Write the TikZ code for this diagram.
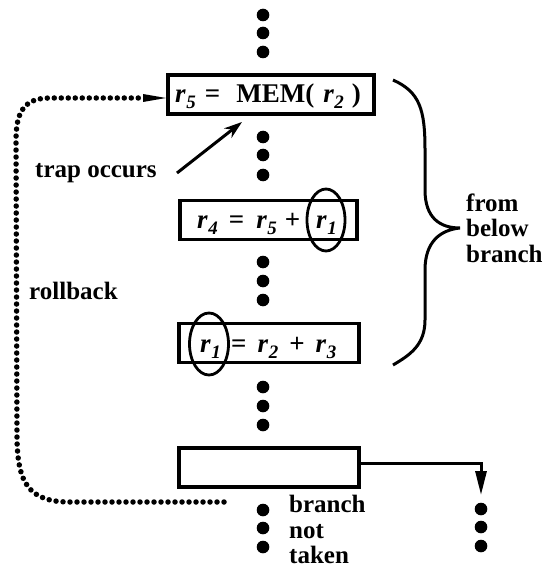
\documentclass[tikz,border=0pt]{standalone}
\usepackage{fontspec}
\setmainfont{Liberation Serif}
\usetikzlibrary{arrows.meta}
\newcommand\rg[1]{\textit{r}\kern0.5pt\raisebox{-6pt}{\fontsize{19}{19}\selectfont\textit{#1}}}
\tikzset{
  instr/.style={draw, line width=3.2pt, inner sep=0pt, minimum height=39pt},
  etxt/.style={inner sep=0pt, anchor=base west, font=\bfseries\fontsize{27}{28}\selectfont},
  lbl/.style={inner sep=0pt, font=\bfseries\fontsize{25}{25.5}\selectfont, align=left},
  dotc/.style={fill=black},
  conn/.style={line width=3pt},
  rollb/.style={line width=5.5pt, line cap=round, dash pattern=on 0pt off 7pt},
  circ/.style={line width=2.8pt},
}
\begin{document}
\begin{tikzpicture}[x=1pt,y=-1pt]
\useasboundingbox (0,0) rectangle (547,572);
% dots
\foreach \y in {15,33,52, 137,155,175, 262,281,300, 387,406,425, 510,528,547}
  \fill[dotc] (263,\y) circle (6.3pt);
\foreach \y in {509,527,546}
  \fill[dotc] (481,\y) circle (6.3pt);
% boxes
\node[instr, minimum width=206pt] (m1) at (271,94.5) {};
\node[instr, minimum width=177pt] (m2) at (268.5,220) {};
\node[instr, minimum width=180pt] (m3) at (269,343) {};
\node[instr, minimum width=180pt] (m4) at (269,467.5) {};
% box texts
\node[etxt] (t1) at (175,103) {\rg{5}\hspace{9pt}=\hspace{16pt}MEM(\hspace{9pt}\rg{2}\hspace{8pt})};
\node[etxt] (t2) at (197,228.5) {\rg{4}\hspace{11pt}=\hspace{12pt}\rg{5}\hspace{8pt}+};
\node[etxt] (t2r) at (316,228.5) {\rg{1}};
\node[etxt] (t3r) at (200,352) {\rg{1}};
\node[etxt] (t3) at (231,352) {=\hspace{11pt}\rg{2}\hspace{11pt}+\hspace{11pt}\rg{3}};
% circles
\draw[circ] (326,220) ellipse [x radius=19pt, y radius=31pt];
\draw[circ] (209,344) ellipse [x radius=19.5pt, y radius=31pt];
% labels
\node[lbl, anchor=west] (trap) at (35,173) {trap occurs};
\node[lbl, anchor=west] (roll) at (29,291) {rollback};
\node[lbl, anchor=west] (from) at (466,228) {from\\below\\branch};
\node[lbl, anchor=north west] (bnt) at (289,495) {branch\\not\\taken};
% trap arrow
\coordinate (trapend) at (242,122);
\draw[conn, -{Stealth[length=18pt,width=12pt]}] (177,173) -- (trapend);
% branch arrow
\coordinate (takenend) at (481,495);
\draw[conn, -{Triangle[length=24pt,width=11pt]}] (m4.east |- 0,463) -| (takenend);
% brace
\coordinate (bt) at (393,80);
\coordinate (bb) at (393,365);
\coordinate (btip) at (460,228);
\draw[line width=3pt] (bt) .. controls (420,92) and (425,110) .. (425,150) -- (425,190)
  .. controls (425,218) and (440,228) .. (btip)
  .. controls (440,230) and (425,242) .. (425,270) -- (425,320)
  .. controls (425,345) and (410,355) .. (bb);
% rollback
\coordinate (rbstart) at (224,502);
\draw[rollb] (rbstart) -- (70,502) .. controls (28,502) and (18,482) .. (17,440) -- (16,140)
  .. controls (16,112) and (24,98) .. (50,98) -- (145,98);
\fill (143,94) -- (166,98) -- (143,102) -- cycle;
\end{tikzpicture}
\end{document}
